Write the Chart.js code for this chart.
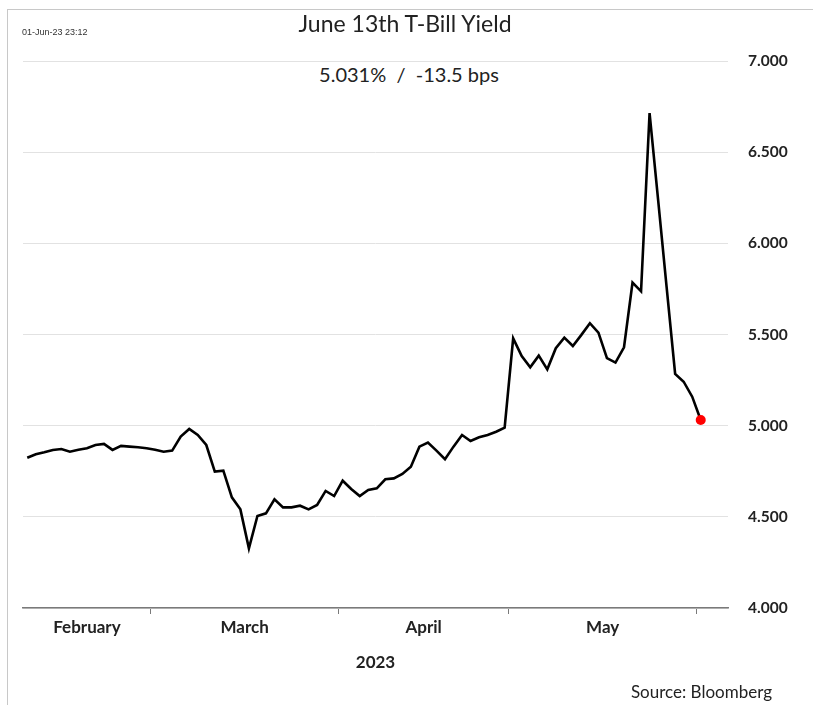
<!DOCTYPE html>
<html>
<head>
<meta charset="utf-8">
<script src="https://cdn.jsdelivr.net/npm/chart.js@4.4.0/dist/chart.umd.min.js"></script>
<style>
  body { margin: 0; background: #fff; }
  #wrap { position: relative; width: 813px; height: 705px; font-family: Lato, "Open Sans", sans-serif; color: #222; }
  #frame { position: absolute; left: 7px; top: 9px; right: -2px; bottom: 0; border-left: 1px solid #c8c8c8; border-top: 1px solid #c8c8c8; }
  #grafica { position: absolute; left: 0; top: 0; }
  .txt { position: absolute; white-space: nowrap; }
  #stamp { left: 22px; top: 27px; font: 9px "Liberation Sans Narrow", Arial, sans-serif; color: #333; }
  #titulo { left: 405px; top: 9px; transform: translateX(-50%); font-size: 23px; }
  #sub { left: 409px; top: 62px; transform: translateX(-50%); font-size: 20px; background: #fff; padding: 0 18px; }
  #fuente { right: 41px; top: 681px; font-size: 17px; }
</style>
</head>
<body>
<div id="wrap">
  <div id="frame"></div>
  <canvas id="grafica" width="813" height="705"></canvas>
  <div class="txt" id="stamp">01-Jun-23 23:12</div>
  <div class="txt" id="titulo">June 13th T-Bill Yield</div>
  <div class="txt" id="sub">5.031%&nbsp; / &nbsp;-13.5 bps</div>
  <div class="txt" id="fuente">Source: Bloomberg</div>
</div>
<script>
const $grafica = document.querySelector("#grafica");

// rendimiento diario (%), un valor por día hábil desde principios de febrero hasta el 1 de junio
const rendimientos = [
  4.824, 4.843, 4.854, 4.867, 4.872, 4.857, 4.868, 4.876, 4.894, 4.900,
  4.867, 4.889, 4.885, 4.882, 4.876, 4.868, 4.857, 4.863, 4.940, 4.982,
  4.949, 4.894, 4.748, 4.753, 4.607, 4.541, 4.327, 4.505, 4.519, 4.596,
  4.552, 4.552, 4.561, 4.541, 4.565, 4.642, 4.614, 4.698, 4.653, 4.614,
  4.647, 4.656, 4.706, 4.711, 4.735, 4.775, 4.885, 4.907, 4.863, 4.816,
  4.885, 4.949, 4.916, 4.936, 4.949, 4.967, 4.989, 5.479, 5.382, 5.320,
  5.384, 5.309, 5.425, 5.483, 5.437, 5.498, 5.562, 5.510, 5.370, 5.346,
  5.430, 5.785, 5.737, 6.714, 6.240, 5.760, 5.284, 5.241, 5.159, 5.031
];

// meses del eje y el índice del primer día hábil de cada uno
const meses = ["February", "March", "April", "May"];
const inicioMes = [0, 15, 37, 57, 79];
const anio = "2023";

const etiquetasY = [4.0, 4.5, 5.0, 5.5, 6.0, 6.5, 7.0];

// cortes entre meses (marcas) y centros (etiquetas)
const cortes = inicioMes.map(i => i - 0.5);
const centros = meses.map((m, k) => (cortes[k] + cortes[k + 1]) / 2);

const puntos = rendimientos.map((v, i) => ({ x: i, y: v }));
const ultimo = puntos.length - 1;

new Chart($grafica, {
  type: 'line',
  data: {
    datasets: [{
      label: "June 13th T-Bill Yield",
      data: puntos,
      borderColor: '#000',
      borderWidth: 2.6,
      tension: 0,
      pointRadius: ctx => ctx.dataIndex === ultimo ? 5 : 0,
      pointBackgroundColor: '#ff0000',
      pointBorderWidth: 0,
    }]
  },
  options: {
    responsive: false,
    animation: false,
    layout: { padding: { top: 61, left: 23, right: 0, bottom: 0 } },
    plugins: { legend: { display: false }, tooltip: { enabled: false } },
    scales: {
      x: {
        type: 'linear',
        min: -0.5,
        max: 82.2,
        afterBuildTicks: s => {
          s.ticks = [...cortes.slice(1), ...centros].sort((a, b) => a - b).map(v => ({ value: v }));
        },
        afterFit: s => { s.height = 97; },
        border: { display: true, color: '#7a7a7a', width: 1.5 },
        grid: {
          drawOnChartArea: false,
          tickLength: 6,
          tickWidth: 1,
          tickColor: ctx => cortes.includes(ctx.tick.value) ? '#7a7a7a' : 'rgba(0,0,0,0)',
        },
        ticks: {
          autoSkip: false,
          maxRotation: 0,
          padding: 3,
          color: '#222',
          font: { family: 'Lato', size: 17, weight: 'bold' },
          callback: v => {
            const k = centros.indexOf(v);
            return k >= 0 ? meses[k] : '';
          }
        },
        title: {
          display: true,
          text: anio,
          color: '#222',
          font: { family: 'Lato', size: 17, weight: 'bold' },
          padding: { top: 0, bottom: 32 }
        }
      },
      y: {
        position: 'right',
        min: 4,
        max: 7,
        afterBuildTicks: s => { s.ticks = etiquetasY.map(v => ({ value: v })); },
        afterFit: s => { s.width = 85; },
        border: { display: false },
        grid: { color: '#e2e2e2', lineWidth: 1, drawTicks: false },
        ticks: {
          padding: 20,
          color: '#222',
          font: { family: 'Lato', size: 15.5, weight: 'bold' },
          callback: v => v.toFixed(3)
        }
      }
    }
  }
});
</script>
</body>
</html>
